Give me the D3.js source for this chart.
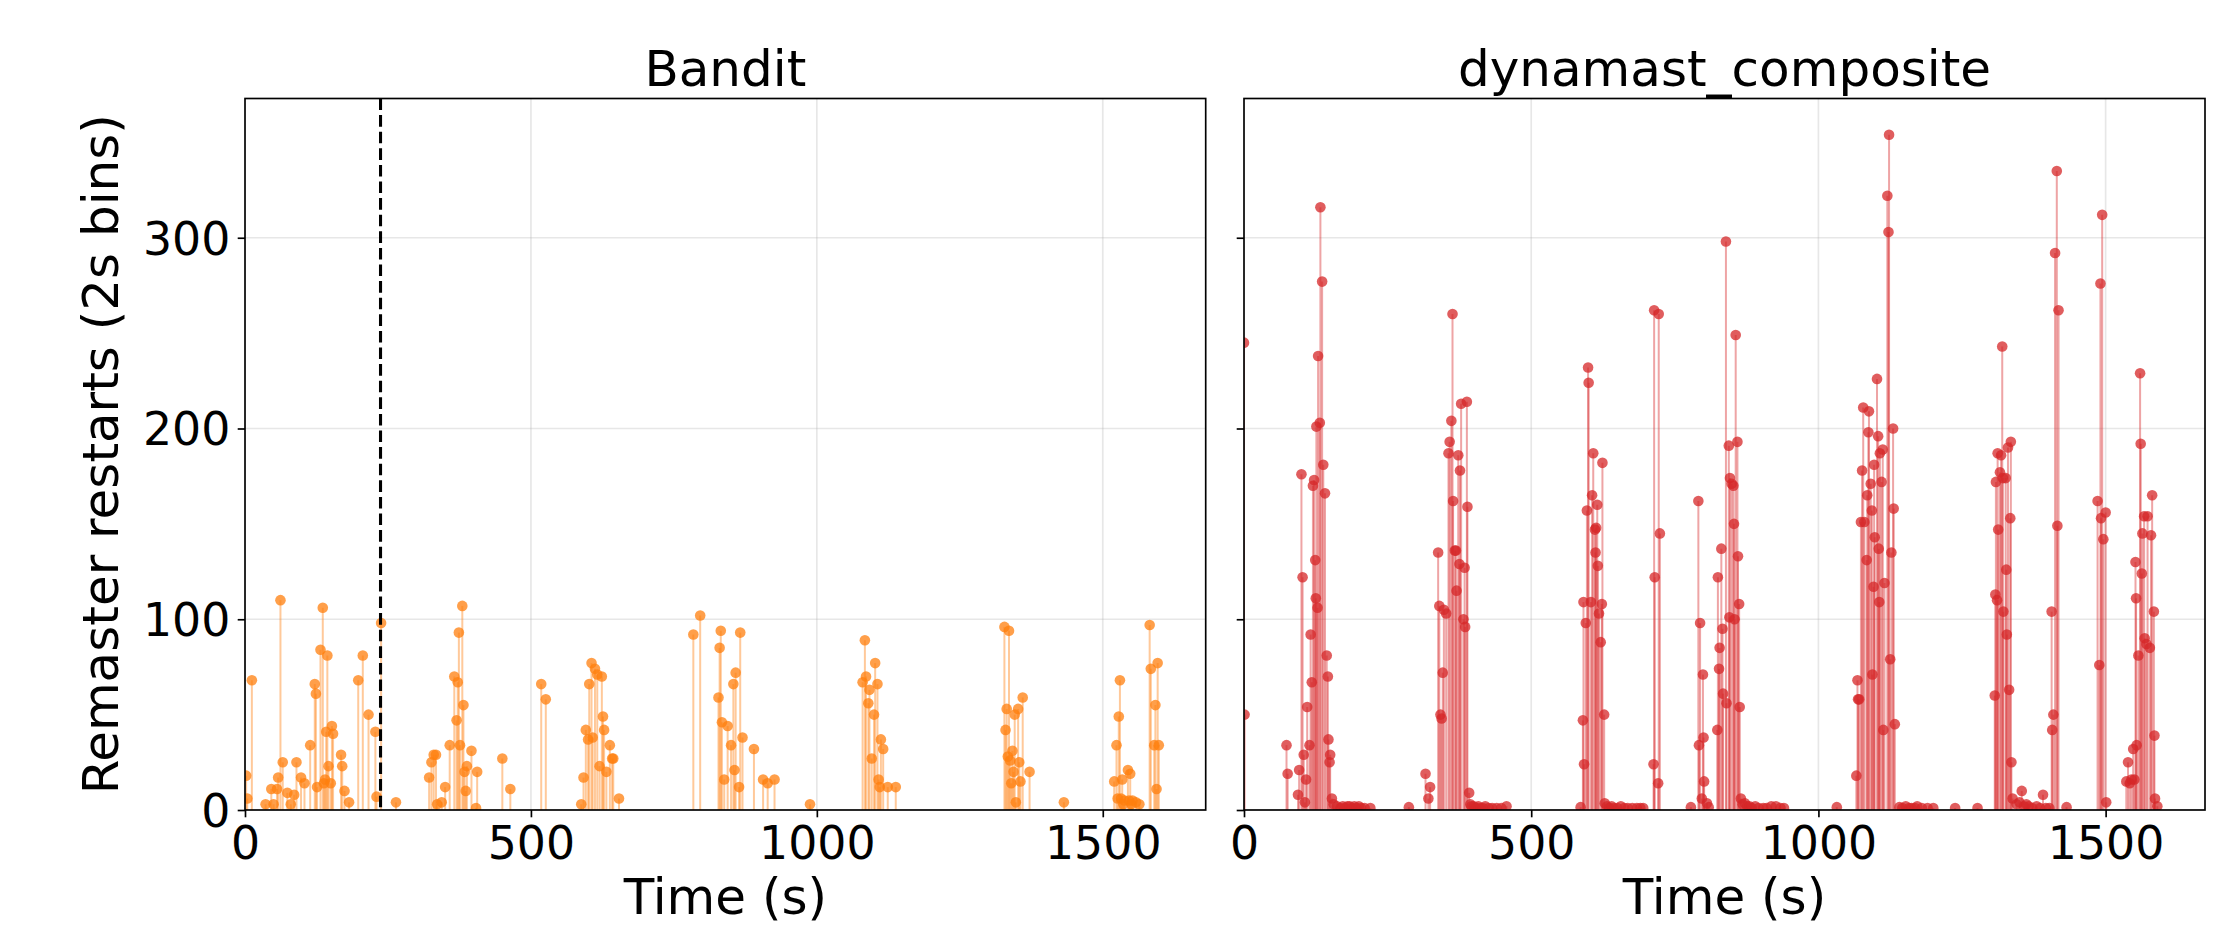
<!DOCTYPE html>
<html>
<head>
<meta charset="utf-8">
<script src="https://cdn.jsdelivr.net/npm/d3@7"></script>
<style>
  html, body { margin: 0; padding: 0; background: #fff; }
  svg { display: block; }
  text { font-family: "DejaVu Sans", sans-serif; fill: #000; }
</style>
</head>
<body>
<svg id="chart" width="2220" height="927"></svg>
<script>
// ---------------- DATA ----------------
const panelTitles = ["Bandit", "dynamast_composite"];
const xTickValues = [0, 500, 1000, 1500];
const yTickValues = [0, 100, 200, 300];
const xLabel = "Time (s)";
const yLabel = "Remaster restarts (2s bins)";
const banditSwitchTime = 237;

const banditTime = [2,4,12,36,46,50,56,58,62,66,74,80,86,90,98,104,114,122,124,126,132,136,138,140,142,144,146,150,152,154,168,170,174,182,198,206,216,228,230,238,264,
  322,326,330,334,336,344,350,358,366,370,372,374,376,380,382,384,386,388,396,404,406,450,464,518,526,
  588,592,596,600,602,606,608,612,616,620,624,626,628,632,638,642,644,654,784,796,
  828,830,832,834,838,844,850,854,856,858,864,866,870,890,906,914,926,988,
  1080,1084,1086,1090,1092,1096,1100,1102,1106,1108,1110,1112,1116,1124,1138,
  1328,1330,1332,1334,1336,1338,1340,1342,1344,1346,1348,1352,1354,1356,1360,1372,1432,
  1520,1524,1526,1528,1530,1532,1534,1536,1538,1544,1546,1548,1550,1552,1558,1564,1582,1584,1590,1592,1594,1596,1598];
const banditRestarts = [18,6,68,3,11,3,11,17,110,25,9,3,8,25,17,14,34,66,61,12,84,106,14,16,41,81,23,14,44,40,29,23,10,4,68,81,50,41,7,98,4,
  17,25,29,29,3,4,12,34,70,47,67,93,34,107,55,20,10,23,31,1,20,27,11,66,58,
  3,17,42,37,66,77,38,74,71,23,70,49,42,20,34,27,27,6,92,102,
  59,85,94,46,16,44,34,66,21,72,12,93,38,32,16,14,16,3,
  67,89,70,56,63,27,50,77,66,16,12,37,32,12,12,
  96,42,53,28,94,26,14,31,20,50,4,53,25,15,59,20,4,
  15,34,6,49,68,6,16,3,5,21,5,19,3,5,4,3,97,74,34,55,11,77,34];

const dynTime = [0,1,74,76,94,96,100,102,104,106,108,110,114,116,118,120,122,124,125,126,128,129,132,133,136,138,141,144,146,147,149,150,153,156,
  162,168,172,176,180,184,188,192,196,200,204,210,220,287,316,321,324,
  338,340,342,344,346,348,352,356,358,361,363,364,367,369,370,373,375,376,378,382,384,385,388,389,392,394,
  396,400,404,408,412,416,420,426,432,440,448,457,
  586,590,591,592,595,597,599,600,604,606,608,611,612,613,615,616,618,621,623,624,627,628,
  632,636,640,644,650,656,662,668,676,684,690,695,
  713,714,715,721,722,724,778,791,792,794,797,799,800,801,806,809,
  824,825,827,828,831,833,834,839,840,844,845,846,849,852,853,854,856,859,860,862,863,865,
  868,872,876,880,884,890,896,904,910,918,926,934,940,1032,
  1066,1068,1069,1071,1074,1076,1078,1080,1084,1085,1087,1088,1091,1093,1094,1096,1097,1098,1102,1104,1105,1106,1107,1110,1112,1113,1115,1120,1122,1123,1125,1127,1130,1131,1133,1141,
  1146,1152,1158,1162,1168,1172,1180,1190,1200,1238,1277,
  1307,1308,1309,1311,1312,1313,1316,1318,1320,1321,1322,1326,1327,1328,1330,1332,1334,1335,1336,1338,
  1345,1350,1354,1358,1362,1366,1372,1380,1386,1391,1396,1402,
  1406,1407,1409,1412,1415,1416,1418,1432,1486,1489,1491,1492,1494,1496,1500,1501,
  1536,1539,1542,1545,1548,1550,1552,1553,1554,1557,1560,1561,1563,1564,1567,1568,1571,1573,1577,1579,1581,1584,1585,1586,1590];
const dynRestarts = [245,50,34,19,8,21,176,122,29,4,16,54,34,92,67,170,173,131,111,201,106,238,203,316,277,181,166,81,70,37,25,29,6,3,
  2,1,2,1,2,2,1,2,1,2,1,1,1,1.5,19,6,12,
  135,107,50,48,72,105,103,187,193,204,260,162,136,136,115,186,129,178,213,100,127,96,214,159,9,3,
  2,2,1,2,1,1,2,1,1,1,1,2,
  1.5,47,109,24,98,157,232,224,109,165,187,147,135,148,160,128,103,88,108,182,50,3.5,
  2,1,2,1,1,2,1,1,1,1,1,1,
  24,262,122,14,260,145,1.5,162,34,98,6,71,38,15,3.5,1.5,
  42,122,74,85,137,95,61,298,56,191,101,174,171,170,150,100,249,193,133,108,54,6,
  3,3.5,2,2,1,2,1,1,1,2,2,1,1,1.5,
  18,68,58,58,151,178,211,151,131,165,198,209,171,157,71,117,181,143,226,196,137,109,187,172,189,42,119,322,303,354,79,135,200,158,45,1.5,
  1,2,1,1,1,2,1,1,1,1,1,
  60,113,172,110,187,147,177,186,243,174,104,174,126,92,190,63,153,193,25,6,
  3,4,10,2,3,2,1,2,1,8,1,1,
  104,42,50,292,335,149,262,1.5,162,76,276,153,312,142,156,4,
  15,25,14,16,32,16,130,111,34,81,229,192,124,145,154,90,87,154,85,144,165,104,39,6,2];

// ---------------- LAYOUT ----------------
const svg = d3.select("#chart");
const W = 2220, H = 927;
const yTop = 98.5, yBottom = 810;
const panels = [
  { title: panelTitles[0], x0: 245, x1: 1205.7, xMax: 1680, color: "#ff7f0e",
    times: banditTime, values: banditRestarts, showYLabels: true, vline: banditSwitchTime },
  { title: panelTitles[1], x0: 1244, x1: 2205, xMax: 1673, color: "#d62728",
    times: dynTime, values: dynRestarts, showYLabels: false, vline: null }
];
const yMax = 373;
const fsTick = 45.8, fsLabel = 50, fsTitle = 50;
const tickLen = 7.3, tickPad = 7.3, spineW = 1.67;

const y = d3.scaleLinear().domain([0, yMax]).range([yBottom, yTop]);

svg.append("rect").attr("width", W).attr("height", H).attr("fill", "#fff");
const defs = svg.append("defs");

panels.forEach((p, i) => {
  const x = d3.scaleLinear().domain([0, p.xMax]).range([p.x0, p.x1]);
  const g = svg.append("g");
  const clipId = "clip" + i;
  defs.append("clipPath").attr("id", clipId)
    .append("rect").attr("x", p.x0).attr("y", yTop).attr("width", p.x1 - p.x0).attr("height", yBottom - yTop);

  // grid
  const grid = g.append("g").attr("clip-path", `url(#${clipId})`);
  grid.selectAll("line.gx").data(xTickValues).join("line").attr("class", "gx")
    .attr("x1", d => x(d)).attr("x2", d => x(d)).attr("y1", yTop).attr("y2", yBottom)
    .attr("stroke", "#b0b0b0").attr("stroke-opacity", 0.3).attr("stroke-width", 1.67);
  grid.selectAll("line.gy").data(yTickValues).join("line").attr("class", "gy")
    .attr("x1", p.x0).attr("x2", p.x1).attr("y1", d => y(d)).attr("y2", d => y(d))
    .attr("stroke", "#b0b0b0").attr("stroke-opacity", 0.3).attr("stroke-width", 1.67);

  const pts = p.times.map((t, k) => ({ t, v: p.values[k] }));
  const marks = g.append("g").attr("clip-path", `url(#${clipId})`);
  marks.selectAll("line.stem").data(pts).join("line").attr("class", "stem")
    .attr("x1", d => x(d.t)).attr("x2", d => x(d.t))
    .attr("y1", y(0)).attr("y2", d => y(d.v))
    .attr("stroke", p.color).attr("stroke-opacity", 0.42).attr("stroke-width", 2.0);
  marks.selectAll("circle").data(pts).join("circle")
    .attr("cx", d => x(d.t)).attr("cy", d => y(d.v)).attr("r", 5.3)
    .attr("fill", p.color).attr("fill-opacity", 0.75);

  if (p.vline !== null) {
    marks.append("line")
      .attr("x1", x(p.vline)).attr("x2", x(p.vline)).attr("y1", yTop).attr("y2", yBottom)
      .attr("stroke", "#000").attr("stroke-width", 3.1).attr("stroke-dasharray", "11.6,5");
  }

  // spines
  g.append("rect").attr("x", p.x0).attr("y", yTop).attr("width", p.x1 - p.x0).attr("height", yBottom - yTop)
    .attr("fill", "none").attr("stroke", "#000").attr("stroke-width", spineW);

  // x axis
  const xa = g.append("g").attr("transform", `translate(0,${yBottom})`)
    .call(d3.axisBottom(x).tickValues(xTickValues).tickSize(tickLen).tickPadding(tickPad + 1.5).tickFormat(d3.format("d")));
  xa.select(".domain").remove();
  xa.selectAll(".tick line").attr("stroke", "#000").attr("stroke-width", spineW);
  xa.selectAll(".tick text").attr("font-size", fsTick).attr("font-family", "DejaVu Sans").attr("fill", "#000");

  // y axis
  const ya = g.append("g").attr("transform", `translate(${p.x0},0)`)
    .call(d3.axisLeft(y).tickValues(yTickValues).tickSize(tickLen).tickPadding(tickPad)
      .tickFormat(p.showYLabels ? d3.format("d") : () => ""));
  ya.select(".domain").remove();
  ya.selectAll(".tick line").attr("stroke", "#000").attr("stroke-width", spineW);
  ya.selectAll(".tick text").attr("font-size", fsTick).attr("font-family", "DejaVu Sans")
    .attr("fill", "#000").attr("dy", "0.36em");

  // title
  g.append("text").attr("x", (p.x0 + p.x1) / 2).attr("y", 85.5)
    .attr("text-anchor", "middle").attr("font-size", fsTitle).text(p.title);

  // x label
  g.append("text").attr("x", (p.x0 + p.x1) / 2).attr("y", 914)
    .attr("text-anchor", "middle").attr("font-size", fsLabel).text(xLabel);
});

// y label
svg.append("text")
  .attr("transform", `translate(118,${(yTop + yBottom) / 2}) rotate(-90)`)
  .attr("text-anchor", "middle").attr("font-size", fsLabel).text(yLabel);
</script>
</body>
</html>
